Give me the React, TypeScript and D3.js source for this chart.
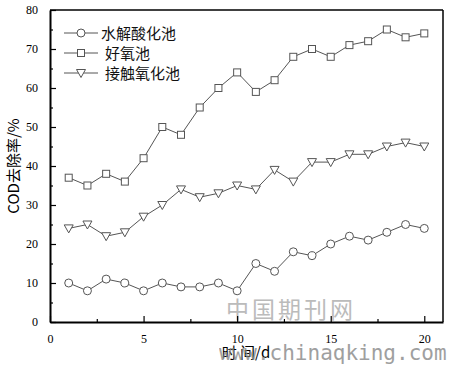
import React, { useRef, useEffect } from 'react';
import * as d3 from 'd3';

const days = [1, 2, 3, 4, 5, 6, 7, 8, 9, 10, 11, 12, 13, 14, 15, 16, 17, 18, 19, 20];
const hydrolysis = [10, 8, 11, 10, 8, 10, 9, 9, 10, 8, 15, 13, 18, 17, 20, 22, 21, 23, 25, 24];
const aerobic = [37, 35, 38, 36, 42, 50, 48, 55, 60, 64, 59, 62, 68, 70, 68, 71, 72, 75, 73, 74];
const contact = [24, 25, 22, 23, 27, 30, 34, 32, 33, 35, 34, 39, 36, 41, 41, 43, 43, 45, 46, 45];
const seriesNames = ['水解酸化池', '好氧池', '接触氧化池'];
const xTicks = [0, 5, 10, 15, 20];
const yTicks = [0, 10, 20, 30, 40, 50, 60, 70, 80];

const serif = '"Liberation Serif", "Times New Roman", serif';
const cjk = '"Noto Sans CJK SC", sans-serif';

const App = () => {
    const ref = useRef<SVGSVGElement>(null);

    useEffect(() => {
        const svg = d3.select(ref.current);
        svg.selectAll('*').remove();
        const left = 50, right = 443, top = 10, bottom = 322;

        const x = d3.scaleLinear().domain([0, 21]).range([left, right]);
        const y = d3.scaleLinear().domain([0, 80]).range([bottom, top]);

        // watermark behind
        svg.append('text').attr('x', 226).attr('y', 318).attr('font-family', cjk)
            .attr('font-size', 23).attr('fill', '#bbb').attr('letter-spacing', 3).text('中国期刊网');

        // frame
        svg.append('line').attr('x1', left).attr('x2', right).attr('y1', top).attr('y2', top)
            .attr('stroke', '#000').attr('stroke-width', 1.5);
        svg.append('line').attr('x1', right).attr('x2', right).attr('y1', top).attr('y2', bottom)
            .attr('stroke', '#000').attr('stroke-width', 1.5);

        const xAxis = svg.append('g').attr('transform', `translate(0,${bottom})`)
            .call(d3.axisBottom(x).tickValues(xTicks).tickSize(-6).tickPadding(12).tickSizeOuter(0));
        svg.append('g').attr('transform', `translate(0,${bottom})`)
            .call(d3.axisBottom(x).tickValues([2.5, 7.5, 12.5, 17.5]).tickSize(-3).tickFormat(() => '').tickSizeOuter(0))
            .select('.domain').remove();
        const yAxis = svg.append('g').attr('transform', `translate(${left},0)`)
            .call(d3.axisLeft(y).tickValues(yTicks).tickSize(-6).tickPadding(12).tickSizeOuter(0));
        svg.append('g').attr('transform', `translate(${left},0)`)
            .call(d3.axisLeft(y).tickValues([5, 15, 25, 35, 45, 55, 65, 75]).tickSize(-3).tickFormat(() => '').tickSizeOuter(0))
            .select('.domain').remove();

        [xAxis, yAxis].forEach(a => {
            a.select('.domain').attr('stroke-width', 2);
            a.selectAll('text').attr('font-family', serif).attr('font-size', 12).attr('fill', '#000');
        });
        svg.selectAll('.tick line').attr('stroke-width', 1.2);

        svg.append('text').attr('x', 246).attr('y', 358).attr('text-anchor', 'middle')
            .attr('font-family', cjk).attr('font-size', 15).text('时 间/d');
        svg.append('text').attr('transform', `translate(19,${(top + bottom) / 2}) rotate(-90)`)
            .attr('text-anchor', 'middle').attr('font-family', cjk).attr('font-size', 15)
            .text('COD去除率/%');

        const line = d3.line<number>().x((_, i) => x(days[i])).y(d => y(d));
        const allSeries = [hydrolysis, aerobic, contact];
        const stroke = '#555';

        const drawMarker = (g: any, kind: number, cx: number, cy: number) => {
            if (kind === 0) {
                g.append('circle').attr('cx', cx).attr('cy', cy).attr('r', 4)
                    .attr('fill', '#fff').attr('stroke', stroke);
            } else if (kind === 1) {
                g.append('rect').attr('x', cx - 3.5).attr('y', cy - 3.5).attr('width', 7).attr('height', 7)
                    .attr('fill', '#fff').attr('stroke', stroke);
            } else {
                g.append('path').attr('d', `M${cx - 4.5},${cy - 3.5}L${cx + 4.5},${cy - 3.5}L${cx},${cy + 4.5}Z`)
                    .attr('fill', '#fff').attr('stroke', stroke);
            }
        };

        allSeries.forEach((s, k) => {
            const g = svg.append('g');
            g.append('path').attr('d', line(s)).attr('fill', 'none').attr('stroke', stroke).attr('stroke-width', 1);
            s.forEach((v, i) => drawMarker(g, k, x(days[i]), y(v)));
        });

        // legend
        seriesNames.forEach((name, k) => {
            const ly = 33 + k * 20;
            const g = svg.append('g');
            g.append('line').attr('x1', 64).attr('x2', 98).attr('y1', ly).attr('y2', ly)
                .attr('stroke', stroke).attr('stroke-width', 1);
            drawMarker(g, k, 81, ly);
            g.append('text').attr('x', k === 0 ? 101 : 105).attr('y', ly + 6)
                .attr('font-family', cjk).attr('font-size', 15).attr('fill', '#111').text(name);
        });

        svg.append('text').attr('x', 219).attr('y', 360).attr('font-family', '"DejaVu Sans Mono", monospace')
            .attr('font-size', 21).attr('fill', '#888').attr('opacity', 0.8).text('www.chinaqking.com');
    }, []);

    return (
        <svg ref={ref} width={451} height={368} style={{ position: 'absolute', left: 0, top: 0, background: '#fff' }} />
    );
};

export default App;
